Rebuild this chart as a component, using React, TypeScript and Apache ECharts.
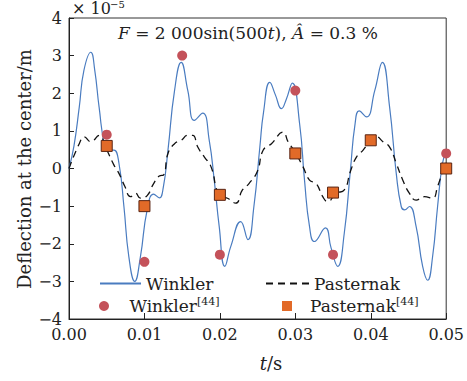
import React, { useEffect, useRef } from "react";
import * as echarts from "echarts";

// Deflection values are in units of 1e-5 m (axis note "×10^-5")
const winklerTime = [0, 0.00066, 0.00136, 0.00197, 0.00289, 0.00342, 0.00399, 0.00478, 0.00539, 0.00596, 0.00662, 0.00728, 0.00793, 0.00872, 0.00947, 0.01036, 0.01122, 0.01197, 0.0125, 0.01312, 0.01399, 0.01487, 0.01575, 0.01662, 0.01772, 0.01859, 0.01925, 0.01991, 0.02066, 0.02145, 0.02276, 0.02372, 0.02451, 0.0253, 0.02579, 0.02662, 0.02737, 0.02816, 0.02882, 0.0296, 0.03057, 0.03122, 0.03188, 0.03254, 0.03399, 0.03474, 0.03562, 0.03649, 0.0373, 0.03793, 0.03846, 0.03943, 0.04053, 0.04154, 0.0425, 0.04338, 0.04404, 0.04447, 0.04513, 0.04601, 0.04688, 0.04754, 0.0482, 0.04886, 0.04951, 0.05];
const winklerDeflection = [0, 0.6, 1.63, 2.6, 3.09, 2.6, 1.63, 0.57, 0.48, 0.49, 0.14, -1.01, -2.34, -3.0, -2.34, -1.1, -0.68, -0.78, -0.5, 0.49, 2.07, 2.82, 2.07, 1.28, 1.47, 0.75, -0.31, -1.54, -2.6, -2.07, -1.41, -1.89, -1.01, 0.57, 1.5, 2.29, 1.95, 1.59, 1.85, 2.27, 1.19, -0.31, -1.54, -1.94, -1.58, -2.11, -2.6, -1.72, -0.05, 1.2, 1.53, 1.37, 2.07, 2.82, 1.63, -0.13, -1.01, -1.1, -1.01, -1.54, -2.6, -2.97, -2.34, -1.01, 0.14, 0.45];

const pasternakTime = [0, 0.00136, 0.00201, 0.00289, 0.00399, 0.00487, 0.00596, 0.00662, 0.00741, 0.00816, 0.00882, 0.00947, 0.01036, 0.01122, 0.01197, 0.01254, 0.01312, 0.01399, 0.01487, 0.01575, 0.01641, 0.01707, 0.01793, 0.01882, 0.01991, 0.02101, 0.0221, 0.02299, 0.02386, 0.02496, 0.02575, 0.02684, 0.02838, 0.02904, 0.02991, 0.03101, 0.03188, 0.03276, 0.03364, 0.0343, 0.03539, 0.03649, 0.0373, 0.03812, 0.03899, 0.03987, 0.04075, 0.04162, 0.0425, 0.04338, 0.04425, 0.04513, 0.04601, 0.04711, 0.0482, 0.04886, 0.04974, 0.05];
const pasternakDeflection = [0, 0.66, 0.84, 0.71, 0.88, 0.55, 0.09, -0.13, -0.48, -0.75, -0.66, -0.79, -0.72, -0.4, -0.2, -0.17, 0.4, 0.66, 0.75, 0.88, 0.88, 0.57, 0.31, 0.05, -0.7, -0.79, -0.92, -0.57, -0.4, -0.08, 0.49, 0.66, 0.97, 0.71, 0.45, 0.05, -0.31, -0.4, -0.75, -0.88, -0.66, -0.57, -0.08, 0.31, 0.49, 0.72, 0.84, 0.71, 0.57, 0.14, -0.31, -0.66, -0.84, -0.75, -0.79, -0.48, 0.05, 0.15];

const winkler44Time = [0.005, 0.01, 0.015, 0.02, 0.03, 0.035, 0.05];
const winkler44Deflection = [0.9, -2.48, 3.0, -2.29, 2.07, -2.29, 0.4];

const pasternak44Time = [0.005, 0.01, 0.02, 0.03, 0.035, 0.04, 0.05];
const pasternak44Deflection = [0.6, -1.0, -0.7, 0.4, -0.64, 0.75, 0.0];

const xTicks = { min: 0, max: 0.05, interval: 0.01 };
const yTicks = { min: -4, max: 4, interval: 1 };

const FONT = "DejaVu Serif";
const TXT = "#222";

const zip = (a: number[], b: number[]) => a.map((v, i) => [v, b[i]]);

export default function App() {
  const ref = useRef<HTMLDivElement>(null);
  useEffect(() => {
    if (!ref.current) return;
    const chart = echarts.init(ref.current, null, { renderer: "svg" });
    const supRich = {
      n: { fontFamily: FONT, fontSize: 17, color: TXT, lineHeight: 20 },
      s: { fontFamily: FONT, fontSize: 11, color: TXT, lineHeight: 12, verticalAlign: "top" },
      g: { width: 13, lineHeight: 20 },
    };
    const legendBase = {
      orient: "horizontal",
      itemGap: 0,
      itemWidth: 41,
      padding: 0,
      selectedMode: false,
      textStyle: { fontFamily: FONT, fontSize: 17, color: TXT, rich: supRich },
      formatter: (name: string) => {
        const m = name.match(/^(.*)\[(\d+)\]$/);
        return m ? `{n|${m[1]}}{s|[${m[2]}]}` : `{n|${name}}`;
      },
    };
    chart.setOption({
      animation: false,
      grid: { left: 69, right: 18, top: 18, bottom: 62, show: true, borderColor: "#333", borderWidth: 1 },
      xAxis: {
        type: "value",
        min: xTicks.min,
        max: xTicks.max,
        interval: xTicks.interval,
        axisLine: { show: true, onZero: false, lineStyle: { color: "#222", width: 1 } },
        axisTick: { show: true, inside: true, length: 6, lineStyle: { color: "#222" } },
        splitLine: { show: false },
        axisLabel: {
          fontFamily: FONT,
          fontSize: 16,
          color: TXT,
          margin: 7,
          formatter: (v: number) => v.toFixed(2),
        },
      },
      yAxis: {
        type: "value",
        min: yTicks.min,
        max: yTicks.max,
        interval: yTicks.interval,
        axisLine: { show: true, onZero: false, lineStyle: { color: "#222", width: 1 } },
        axisTick: { show: true, inside: true, length: 5, lineStyle: { color: "#222" } },
        splitLine: { show: false },
        axisLabel: {
          fontFamily: FONT,
          fontSize: 16,
          color: TXT,
          margin: 7,
          formatter: (v: number) => (v < 0 ? "\u2212" + Math.abs(v) : String(v)),
        },
      },
      legend: [
        { ...legendBase, left: 99, top: 275, data: [{ name: "Winkler", itemStyle: { opacity: 0 } }] },
        { ...legendBase, left: 265, top: 275, itemWidth: 43, data: [{ name: "Pasternak", itemStyle: { opacity: 0 } }] },
        { ...legendBase, left: 99, top: 296, itemHeight: 10, data: ["Winkler[44]"] },
        {
          ...legendBase,
          left: 282,
          top: 296,
          itemWidth: 10,
          itemHeight: 10,
          formatter: () => "{g|}{n|Pasternak}{s|[44]}",
          data: [{ name: "Pasternak[44]", icon: "rect", itemStyle: { borderWidth: 0 } }],
        },
      ],
      series: [
        {
          name: "Winkler",
          type: "line",
          data: zip(winklerTime, winklerDeflection),
          smooth: 0.5,
          showSymbol: false,
          symbol: "none",
          lineStyle: { color: "#4a7cc0", width: 1.2 },
          itemStyle: { color: "#4a7cc0" },
          z: 2,
        },
        {
          name: "Pasternak",
          type: "line",
          data: zip(pasternakTime, pasternakDeflection),
          smooth: 0.5,
          showSymbol: false,
          symbol: "none",
          lineStyle: { color: "#111", width: 1.3, type: [7, 5] },
          itemStyle: { color: "#111" },
          z: 3,
        },
        {
          name: "Winkler[44]",
          type: "scatter",
          data: zip(winkler44Time, winkler44Deflection),
          symbol: "circle",
          symbolSize: 10,
          itemStyle: { color: "#c4525a", opacity: 1 },
          z: 4,
        },
        {
          name: "Pasternak[44]",
          type: "scatter",
          data: zip(pasternak44Time, pasternak44Deflection),
          symbol: "rect",
          symbolSize: 11,
          itemStyle: { color: "#e26a28", borderColor: "#5a2412", borderWidth: 1, opacity: 1 },
          z: 5,
        },
      ],
      graphic: [
        {
          type: "text",
          left: 118,
          top: 24,
          style: {
            text: "{i|F}{r| = 2 000sin(500}{i|t}{r|), }{i|\u00C2}{r| = 0.3 %}",
            rich: {
              i: { fontFamily: FONT, fontSize: 17, fontStyle: "italic", fill: TXT },
              r: { fontFamily: FONT, fontSize: 17, fill: TXT },
            },
          },
        },
        {
          type: "text",
          x: 72,
          y: 0,
          style: { text: "\u00D7 10", fontFamily: FONT, fontSize: 16, fill: TXT },
        },
        {
          type: "text",
          x: 110,
          y: -1,
          style: { text: "\u22125", fontFamily: FONT, fontSize: 10, fill: TXT },
        },
        {
          type: "text",
          x: 24,
          y: 169,
          rotation: Math.PI / 2,
          style: {
            text: "Deflection at the center/m",
            fontFamily: FONT,
            fontSize: 18,
            fill: TXT,
            align: "center",
            verticalAlign: "middle",
          },
        },
        {
          type: "text",
          x: 271,
          y: 363,
          style: {
            text: "{i|t}{r|/s}",
            align: "center",
            verticalAlign: "middle",
            rich: {
              i: { fontFamily: FONT, fontSize: 18, fontStyle: "italic", fill: TXT },
              r: { fontFamily: FONT, fontSize: 18, fill: TXT },
            },
          },
        },
      ],
    });
    return () => chart.dispose();
  }, []);
  return (
    <div
      ref={ref}
      style={{ position: "absolute", left: 0, top: 0, width: 467, height: 381 }}
    />
  );
}
